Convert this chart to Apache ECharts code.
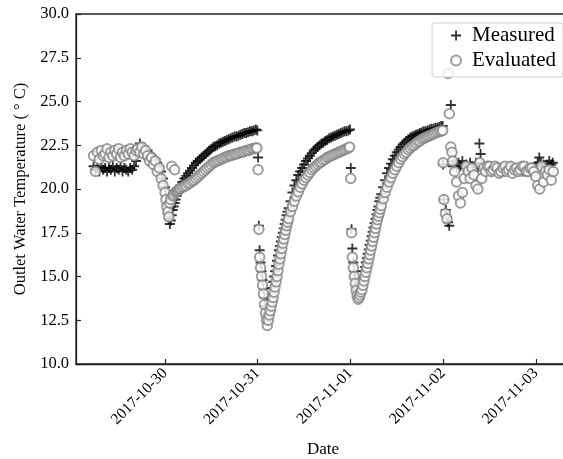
<!DOCTYPE html>
<html>
<head>
<meta charset="utf-8">
<script src="https://cdn.jsdelivr.net/npm/echarts@6/dist/echarts.min.js"></script>
<style>
  html, body { margin: 0; padding: 0; background: #fff; }
  #chart { width: 563px; height: 459px; }
</style>
</head>
<body>
<div id="chart"></div>
<script>
  // [hours since 2017-10-29 00:00, temperature °C]
  var measuredPoints = [
    [5.5,21.3],[6,21.1],[6.5,21.2],[7,21.0],[7.5,21.3],[8,21.1],[8.5,21.2],[9,21.0],[9.5,21.2],[10,21.1],[10.5,21.3],
    [11,21.0],[11.5,21.2],[12,21.1],[12.5,21.3],[13,21.0],[13.5,21.2],[14,21.1],[14.5,21.0],[15,21.2],[15.5,21.1],[16,21.3],
    [16.5,21.6],[17,22.2],[17.5,22.6],[18,22.4],[18.5,22.3],[19,22.1],[19.5,22.2],[20,22.0],[20.5,21.9],[21,21.8],
    [21.5,21.7],[22,21.5],[22.5,21.3],[23,21.0],[23.5,20.6],[24,20.1],
    [24.25,19.6],[24.5,19.1],[24.75,18.6],[25,18.3],[25.25,18.0],[25.5,18.2],[25.75,18.5],[26,18.8],[26.25,19.0],
    [26.5,19.2],[26.75,19.4],[27,19.6],[27.25,19.8],[27.5,19.95],[27.75,20.1],[28,20.2],
    [28.5,20.4],[29,20.6],[29.5,20.75],[30,20.9],[30.5,21.05],[31,21.2],[31.5,21.35],[32,21.5],[32.5,21.6],[33,21.7],
    [33.5,21.8],[34,21.9],[34.5,22.0],[35,22.1],[35.5,22.2],[36,22.3],[36.5,22.4],[37,22.45],[37.5,22.5],[38,22.6],
    [38.5,22.65],[39,22.7],[39.5,22.75],[40,22.8],[40.5,22.85],[41,22.9],[41.5,22.95],[42,23.0],[42.5,23.0],[43,23.05],
    [43.5,23.1],[44,23.15],[44.5,23.2],[45,23.2],[45.5,23.25],[46,23.3],[46.5,23.3],[47,23.35],[47.5,23.4],[47.9,23.35],
    [48.1,21.8],[48.3,17.9],[48.5,16.5],[48.75,15.8],[49,15.3],[49.25,14.8],[49.5,14.3],[49.75,13.8],[50,13.3],[50.25,12.9],[50.5,12.8],
    [50.75,13.1],[51,13.4],[51.25,13.7],[51.5,14.0],[51.75,14.35],[52,14.7],[52.25,15.0],[52.5,15.3],[52.75,15.6],[53,15.9],
    [53.25,16.2],[53.5,16.5],[53.75,16.75],[54,17.0],[54.25,17.25],[54.5,17.5],[54.75,17.75],[55,18.0],[55.25,18.25],
    [55.5,18.5],[55.75,18.7],[56,18.9],[56.5,19.3],[57,19.8],[57.5,20.2],[58,20.5],[58.5,20.8],[59,21.0],[59.5,21.2],
    [60,21.4],[60.5,21.6],[61,21.75],[61.5,21.9],[62,22.05],[62.5,22.2],[63,22.3],[63.5,22.4],[64,22.5],[64.5,22.6],
    [65,22.65],[65.5,22.75],[66,22.8],[66.5,22.9],[67,22.95],[67.5,23.0],[68,23.05],[68.5,23.1],[69,23.15],[69.5,23.2],
    [70,23.25],[70.5,23.3],[71,23.3],[71.5,23.35],[71.9,23.4],
    [72.1,21.2],[72.3,17.7],[72.5,16.6],[72.75,15.8],[73,15.3],[73.25,14.9],[73.5,14.5],[73.75,14.2],[74,14.0],[74.25,14.05],
    [74.5,14.2],[74.75,14.45],[75,14.7],[75.25,15.0],[75.5,15.3],[75.75,15.55],[76,15.8],[76.25,16.05],[76.5,16.3],
    [76.75,16.55],[77,16.8],[77.25,17.05],[77.5,17.3],[77.75,17.55],[78,17.8],[78.25,18.05],[78.5,18.3],[78.75,18.55],
    [79,18.8],[79.25,19.0],[79.5,19.3],[79.75,19.5],[80,19.7],[80.5,20.1],[81,20.5],[81.5,20.9],[82,21.2],[82.5,21.45],
    [83,21.7],[83.5,21.9],[84,22.1],[84.5,22.25],[85,22.4],[85.5,22.55],[86,22.65],[86.5,22.75],[87,22.85],[87.5,22.95],
    [88,23.0],[88.5,23.05],[89,23.1],[89.5,23.15],[90,23.2],[90.5,23.25],[91,23.3],[91.5,23.3],[92,23.35],[92.5,23.4],
    [93,23.45],[93.5,23.45],[94,23.5],[94.5,23.5],[95,23.55],[95.5,23.6],[95.9,23.6],
    [96.0,21.4],[96.2,19.4],[96.7,18.8],[97.0,18.4],[97.3,18.1],[97.6,17.9],[98.0,24.8],[98.5,21.3],[99,21.6],[99.5,21.2],
    [100,21.5],[100.5,21.3],[101,21.6],[101.5,21.2],[102,21.4],[102.5,21.1],[103,21.5],[103.5,21.3],[104,21.2],[104.5,21.5],
    [105,21.2],[105.4,22.6],[105.7,22.0],[106,21.4],[106.5,21.3],[107,21.1],[107.5,21.3],[108,21.2],[108.5,21.0],[109,21.1],
    [109.5,21.2],[110,21.1],[110.5,21.0],[111,21.2],[111.5,21.1],[112,21.0],[112.5,21.2],[113,21.1],[113.5,21.3],[114,21.2],
    [114.5,21.0],[115,21.1],[115.5,21.2],[116,21.1],[116.5,21.0],[117,21.2],[117.5,21.1],[118,21.0],[118.5,21.2],[119,21.1],
    [119.5,21.2],[120,21.3],[120.5,21.5],[120.9,21.8],[121.3,21.5],[121.7,21.3],[122,21.4],[122.5,21.3],[123,21.4],
    [123.5,21.6],[124,21.4],[124.4,21.5]
  ];

  var evaluatedPoints = [
    [5.5,21.9],[6,21.0],[6.5,22.1],[7,21.7],[7.5,22.2],[8,21.9],[8.5,22.0],[9,22.3],[9.5,21.8],[10,22.1],[10.5,21.9],
    [11,22.2],[11.5,22.0],[12,22.3],[12.5,21.8],[13,22.1],[13.5,21.9],[14,22.2],[14.5,22.0],[15,22.3],[15.5,22.1],[16,21.9],
    [16.5,22.2],[17,22.3],[17.5,22.1],[18,22.4],[18.5,22.0],[19,22.2],[19.5,21.9],[20,21.6],[20.5,21.8],[21,21.4],
    [21.5,21.6],[22,21.0],[22.5,21.2],[23,20.6],[23.5,20.2],[24,19.8],
    [24.25,19.4],[24.5,19.0],[24.75,18.7],[25,18.4],[25.25,19.2],[25.5,19.4],[25.75,21.3],[26,19.6],[26.25,19.7],
    [26.5,21.1],[26.75,19.8],[27,19.85],[27.25,19.9],[27.5,19.95],[27.75,20.0],[28,20.05],
    [28.5,20.1],[29,20.15],[29.5,20.2],[30,20.3],[30.5,20.35],[31,20.45],[31.5,20.5],[32,20.6],[32.5,20.7],[33,20.8],
    [33.5,20.9],[34,21.0],[34.5,21.1],[35,21.2],[35.5,21.3],[36,21.4],[36.5,21.5],[37,21.55],[37.5,21.6],[38,21.65],
    [38.5,21.7],[39,21.75],[39.5,21.8],[40,21.85],[40.5,21.9],[41,21.9],[41.5,21.95],[42,22.0],[42.5,22.0],[43,22.05],
    [43.5,22.1],[44,22.1],[44.5,22.15],[45,22.2],[45.5,22.2],[46,22.25],[46.5,22.3],[47,22.3],[47.5,22.35],[47.8,22.35],
    [48.1,21.1],[48.3,17.7],[48.5,16.1],[48.75,15.5],[49,15.0],[49.25,14.5],[49.5,14.0],[49.75,13.4],[50,12.9],[50.25,12.5],[50.5,12.2],
    [50.75,12.5],[51,12.8],[51.25,13.05],[51.5,13.3],[51.75,13.55],[52,13.8],[52.25,14.1],[52.5,14.4],[52.75,14.7],[53,15.0],
    [53.25,15.35],[53.5,15.7],[53.75,16.0],[54,16.3],[54.25,16.6],[54.5,16.9],[54.75,17.15],[55,17.4],[55.25,17.65],
    [55.5,17.9],[55.75,18.1],[56,18.3],[56.5,18.7],[57,19.0],[57.5,19.3],[58,19.6],[58.5,19.85],[59,20.1],[59.5,20.3],
    [60,20.5],[60.5,20.65],[61,20.8],[61.5,20.95],[62,21.1],[62.5,21.2],[63,21.3],[63.5,21.4],[64,21.5],[64.5,21.55],
    [65,21.65],[65.5,21.7],[66,21.8],[66.5,21.85],[67,21.9],[67.5,21.95],[68,22.0],[68.5,22.05],[69,22.1],[69.5,22.15],
    [70,22.2],[70.5,22.25],[71,22.3],[71.5,22.35],[71.8,22.4],
    [72.1,20.6],[72.3,17.5],[72.5,16.1],[72.75,15.5],[73,15.0],[73.25,14.6],[73.5,14.2],[73.75,13.9],[74,13.7],
    [74.25,13.8],[74.5,13.95],[74.75,14.1],[75,14.25],[75.25,14.5],[75.5,14.75],[75.75,15.0],[76,15.25],[76.25,15.5],
    [76.5,15.75],[76.75,16.0],[77,16.25],[77.25,16.5],[77.5,16.75],[77.75,17.0],[78,17.25],[78.25,17.5],[78.5,17.75],
    [78.75,18.0],[79,18.25],[79.25,18.45],[79.5,18.65],[79.75,18.85],[80,19.05],[80.5,19.45],[81,19.8],[81.5,20.1],
    [82,20.4],[82.5,20.65],[83,20.9],[83.5,21.1],[84,21.3],[84.5,21.5],[85,21.7],[85.5,21.85],[86,22.0],[86.5,22.1],
    [87,22.25],[87.5,22.35],[88,22.45],[88.5,22.5],[89,22.6],[89.5,22.7],[90,22.75],[90.5,22.85],[91,22.9],[91.5,22.95],
    [92,23.0],[92.5,23.05],[93,23.1],[93.5,23.15],[94,23.2],[94.5,23.25],[95,23.3],[95.5,23.3],[95.9,23.35],
    [96.0,21.5],[96.2,19.4],[96.6,18.6],[97.0,18.3],[97.3,26.6],[97.6,24.3],[98.0,22.4],[98.3,22.1],[98.5,21.6],[99,21.0],
    [99.5,20.4],[100,19.6],[100.5,19.2],[101,19.8],[101.5,20.6],[102,21.3],[102.5,21.0],[103,20.6],[103.5,21.2],[104,20.8],
    [104.5,20.2],[105,20.0],[105.5,21.5],[106,20.6],[106.5,21.2],[107,21.0],[107.5,21.3],[108,21.3],[108.5,21.0],[109,21.1],
    [109.5,21.3],[110,21.2],[110.5,20.9],[111,21.0],[111.5,21.2],[112,21.3],[112.5,21.0],[113,21.1],[113.5,21.3],[114,20.9],
    [114.5,21.1],[115,21.2],[115.5,21.0],[116,21.1],[116.5,21.3],[117,21.3],[117.5,21.0],[118,21.0],[118.5,21.2],[119,21.2],
    [119.5,21.0],[120,20.7],[120.5,20.2],[121,20.0],[121.5,21.3],[122,20.4],[122.5,21.0],[123,20.8],[123.5,21.1],[124,20.5],
    [124.5,21.0]
  ];

  var yTicks = [10, 12.5, 15, 17.5, 20, 22.5, 25, 27.5, 30];
  var dateTickHours = [24, 48, 72, 96, 120];
  var dateTickLabels = ['2017-10-30', '2017-10-31', '2017-11-01', '2017-11-02', '2017-11-03'];

  // plus marker, bars about 1.8px wide at size 10
  var plusPath = 'path://M0.82,0H1.18V0.82H2V1.18H1.18V2H0.82V1.18H0V0.82H0.82Z';
  var serif = 'Liberation Serif';

  var myChart = echarts.init(document.getElementById('chart'));
  myChart.setOption({
    animation: false,
    textStyle: { fontFamily: serif, color: '#000' },
    grid: {
      left: 76, top: 14, right: -7, bottom: 95,
      outerBoundsMode: 'none',
      show: true, borderColor: '#222', borderWidth: 1.3
    },
    legend: {
      orient: 'vertical',
      right: 0,
      top: 23,
      padding: [2, 7, 6, 18],
      itemGap: 4,
      itemWidth: 22,
      itemHeight: 10,
      backgroundColor: 'rgba(255,255,255,0.8)',
      borderColor: '#d0d0d0',
      borderWidth: 1,
      borderRadius: 3,
      textStyle: { fontFamily: serif, fontSize: 21, color: '#000' },
      data: ['Measured', 'Evaluated']
    },
    xAxis: {
      type: 'value',
      min: 0.96,
      max: 128.86,
      name: 'Date',
      nameLocation: 'middle',
      nameGap: 77,
      nameTextStyle: { fontFamily: serif, fontSize: 17, color: '#000' },
      axisLine: { lineStyle: { color: '#222', width: 1.3 } },
      axisTick: {
        inside: true, length: 5, lineStyle: { color: '#222', width: 1.2 },
        customValues: dateTickHours
      },
      axisLabel: {
        rotate: 45, margin: 7, fontSize: 15.5, color: '#000', fontFamily: serif,
        customValues: dateTickHours,
        formatter: function (v) {
          var i = dateTickHours.indexOf(v);
          return i >= 0 ? dateTickLabels[i] : '';
        }
      },
      splitLine: { show: false }
    },
    yAxis: {
      type: 'value',
      min: yTicks[0],
      max: yTicks[yTicks.length - 1],
      interval: 2.5,
      name: 'Outlet Water Temperature ( ° C)',
      nameLocation: 'middle',
      nameGap: 46,
      nameTextStyle: { fontFamily: serif, fontSize: 16.5, color: '#000' },
      axisLine: { show: true, lineStyle: { color: '#222', width: 1.3 } },
      axisTick: { show: true, inside: true, length: 5, lineStyle: { color: '#222', width: 1.2 } },
      axisLabel: {
        margin: 7, fontSize: 16.5, color: '#000', fontFamily: serif,
        formatter: function (v) { return v.toFixed(1); }
      },
      splitLine: { show: false }
    },
    series: [
      {
        name: 'Measured',
        type: 'scatter',
        symbol: plusPath,
        symbolSize: 10,
        itemStyle: { color: '#000' },
        data: measuredPoints
      },
      {
        name: 'Evaluated',
        type: 'scatter',
        symbol: 'emptyCircle',
        symbolSize: 9.5,
        itemStyle: { color: '#858585', borderColor: '#858585', borderWidth: 1.9 },
        data: evaluatedPoints
      }
    ]
  });
</script>
</body>
</html>
